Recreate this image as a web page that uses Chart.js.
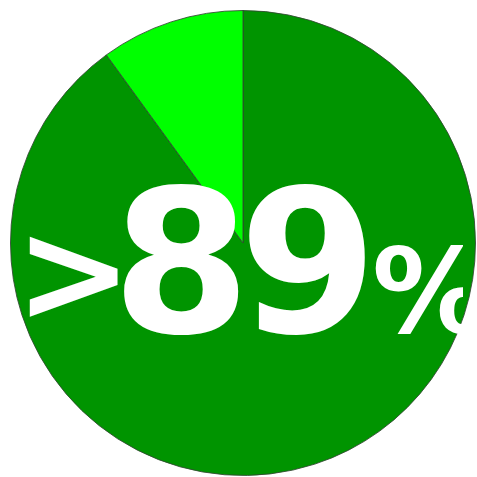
<!DOCTYPE html>
<html>
<head>
<meta charset="utf-8">
<script src="https://cdn.jsdelivr.net/npm/chart.js@4"></script>
<style>
  html, body { margin: 0; padding: 0; background: #fff; }
  #wrap { width: 477px; height: 477px; }
</style>
</head>
<body>
<div id="wrap"><canvas id="myChart" width="477" height="477"></canvas></div>
<script>
const labels = ["Yes", "No"];
const values = [90, 10];
const colors = ["#009400", "#00ff00"];
const bigText = ">89";
const smallText = "%";

// draws the big percentage label over the pie
const labelPlugin = {
  id: "bigLabel",
  afterDraw(chart) {
    const ctx = chart.ctx;
    ctx.save();
    ctx.beginPath();
    ctx.rect(0, 0, 463, 477);
    ctx.clip();
    ctx.fillStyle = "#ffffff";
    ctx.textBaseline = "alphabetic";
    ctx.font = "bold 140px 'DejaVu Sans'";
    ctx.fillText(bigText[0], 15, 321);
    ctx.font = "bold 199px 'DejaVu Sans'";
    ctx.fillText(bigText[1], 112, 332);
    ctx.fillText(bigText[2], 239, 332);
    ctx.font = "bold 117px 'DejaVu Sans'";
    ctx.fillText(smallText, 372, 332);
    ctx.restore();
  }
};

const ctx = document.getElementById("myChart");
new Chart(ctx, {
  type: "pie",
  data: {
    labels: labels,
    datasets: [
      {
        data: values,
        backgroundColor: colors,
        borderColor: "rgba(50,70,50,0.85)",
        borderWidth: 1
      }
    ]
  },
  options: {
    responsive: false,
    animation: false,
    layout: { padding: { left: 10, top: 10, right: 1, bottom: 1 } },
    plugins: {
      legend: { display: false },
      tooltip: { enabled: false }
    }
  },
  plugins: [labelPlugin]
});
</script>
</body>
</html>
